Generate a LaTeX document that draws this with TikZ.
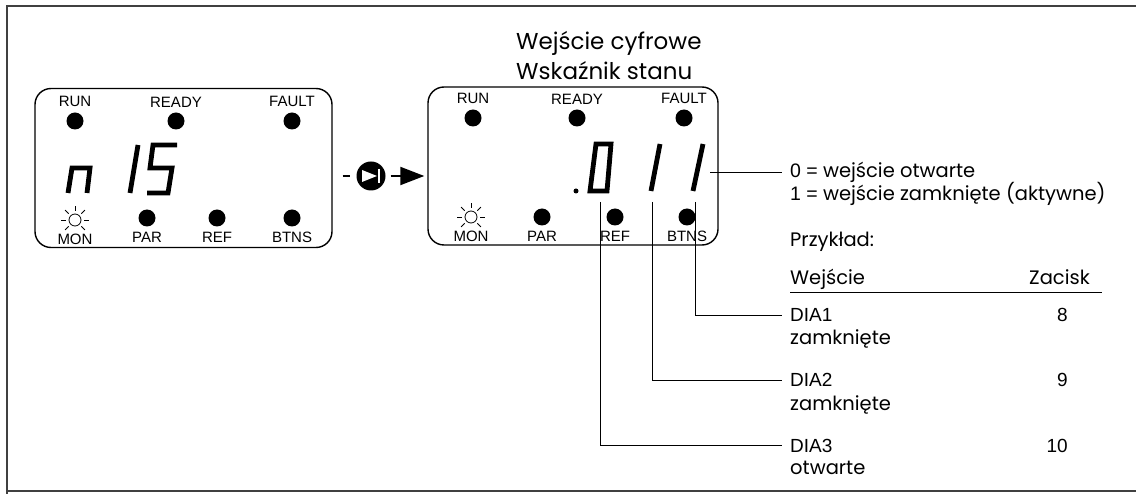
\documentclass[tikz,border=0pt]{standalone}
\usepackage{fontspec}
\setmainfont{Poppins}
\newfontfamily\helv{Liberation Sans}
\usetikzlibrary{arrows.meta}

\begin{document}
\begin{tikzpicture}[
	x=1pt, y=-1pt,
	display/.style={ draw, line width=1.4pt, rounded corners=16pt, inner sep=0pt },
	led/.style={ circle, fill, inner sep=0pt, minimum size=17pt },
	sun/.style={ circle, draw, line width=0.8pt, inner sep=0pt, minimum size=12pt },
	seg/.style={ line width=4.8pt, line join=miter },
	lead/.style={ line width=0.8pt },
	txt/.style={ inner sep=0pt, font=\fontsize{19.5}{19.5}\selectfont },
	tag/.style={ inner sep=0pt, font=\helv\fontsize{19}{19}\selectfont },
	every label/.style={ inner sep=0pt, font=\helv\fontsize{15}{15}\selectfont },
	label distance=5pt
]
\useasboundingbox (0,0) rectangle (1136,494);

\draw[line width=1.8pt, black!75] (1136,6) -- (7,6) -- (7,494);
\draw[line width=1.8pt, black!75] (7,491) -- (1136,491);

\node at (183.5,168) (disp1) [display, minimum width=297, minimum height=159] {};

\node at (75,121) (run1) [led, label=above:RUN] {};
\node at (176,121) (ready1) [led, label=above:READY] {};
\node at (292,121) (fault1) [led, label=above:FAULT] {};
\node at (75,220) (mon1) [sun, label={[label distance=7pt]below:MON}] {};
\node at (147,218) (par1) [led, label=below:PAR] {};
\node at (217,218) (ref1) [led, label=below:REF] {};
\node at (292,218) (btns1) [led, label=below:BTNS] {};
\foreach \a in {0,45,135,180,225,270,315} \draw[lead] (mon1) ++(\a:9) -- ++(\a:5);

\draw[seg] (68,193) -- (72,168) -- (90,168) -- (87,193);
\draw[seg] (138,145) -- (130,193);
\draw[seg] (177,145) -- (153,145) -- (150,168) -- (172,168) -- (168,193) -- (147,193);

\node at (573,166) (disp2) [display, minimum width=290, minimum height=158] {};

\node at (371,176) (play) [circle, fill, inner sep=0pt, minimum size=29pt] {};
\fill[white] (play.center) ++(-9,-6) -- ++(0,12) -- ++(15,-6) -- cycle;
\draw[white, line width=2.5pt] (play.center) ++(8,-7) -- ++(0,14);
\draw[line width=2pt, shorten <=10pt, shorten >=6pt] (disp1.east |- play) -- (play);
\draw[line width=2pt, -{Triangle[length=24pt,width=18pt]}, shorten <=5pt, shorten >=3pt] (play) -- (play -| disp2.west);

\node at (516,50) (title1) [txt, anchor=base west, font=\fontsize{23}{23}\selectfont] {Wejście cyfrowe};
\node at (516,80) (title2) [txt, anchor=base west, font=\fontsize{23}{23}\selectfont] {Wskaźnik stanu};

\node at (473,118) (run2) [led, label=above:RUN] {};
\node at (577,118) (ready2) [led, label=above:READY] {};
\node at (684,118) (fault2) [led, label=above:FAULT] {};
\node at (471,217) (mon2) [sun, label={[label distance=7pt]below:MON}] {};
\node at (542,217) (par2) [led, label=below:PAR] {};
\node at (615,217) (ref2) [led, label=below:REF] {};
\node at (687,217) (btns2) [led, label=below:BTNS] {};
\foreach \a in {0,45,135,180,225,270,315} \draw[lead] (mon2) ++(\a:9) -- ++(\a:5);

\fill (576,191) circle (2.5);
\draw[seg] (596,144) -- (611,144) -- (607,191) -- (590,191) -- cycle;
\draw[seg] (660,144) -- (651,191);
\draw[seg] (703,144) -- (693,191);

\coordinate (tap3) at (600,202);
\coordinate (tap2) at (652,202);
\coordinate (tap1) at (695,202);
\coordinate (tapkey) at (710,172);

\node at (790,178) (key0) [txt, anchor=base west] {{\helv 0 =} wejście otwarte};
\node at (790,201) (key1) [txt, anchor=base west] {{\helv 1 =} wejście zamknięte (aktywne)};
\draw[lead, shorten >=8pt] (tapkey) -- (tapkey -| key0.west);

\node at (790,247) (example) [txt, anchor=base west] {Przykład:};
\node at (790,285) (colin) [txt, anchor=base west] {Wejście};
\node at (1090,285) (colterm) [txt, anchor=base east] {Zacisk};
\draw[lead] (790,292) -- (1102,292);

\foreach \i/\y/\state/\term in {1/322/zamknięte/8, 2/387/zamknięte/9, 3/452/otwarte/10} {
	\node at (790,\y) (dia\i) [tag, anchor=base west] {DIA\i};
	\node at (790,\y+23) (state\i) [txt, anchor=base west] {\state};
	\node at (1068,\y) (term\i) [tag, anchor=base east] {\term};
}
\foreach \i in {1,2,3} \draw[lead, shorten >=8pt] (tap\i) |- (dia\i.west);

\end{tikzpicture}
\end{document}
